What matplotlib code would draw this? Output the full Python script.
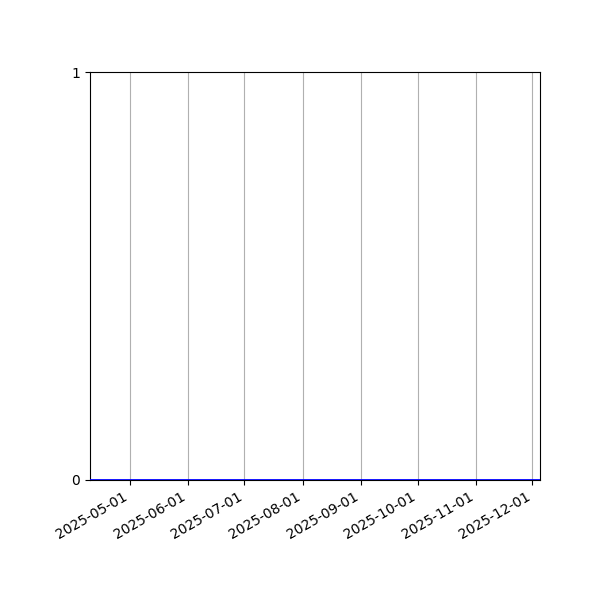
import numpy as np
import pandas as pd
import matplotlib
matplotlib.use("Agg")
import matplotlib.pyplot as plt
import matplotlib.dates as mdates

dates = pd.to_datetime(["2025-04-10", "2025-06-01", "2025-08-01", "2025-10-01", "2025-12-05"])
values = [0, 0, 0, 0, 0]
y_ticks = [0, 1]

fig, ax = plt.subplots(figsize=(6, 6), dpi=100)
ax.plot(dates, values, color="blue", linewidth=2, zorder=3)
ax.set_xlim(dates[0], dates[-1])
ax.set_ylim(0, 1)
ax.set_yticks(y_ticks)
ax.xaxis.set_major_locator(mdates.MonthLocator())
ax.xaxis.set_major_formatter(mdates.DateFormatter("%Y-%m-%d"))
ax.grid(axis="x", color="#b0b0b0")
fig.autofmt_xdate()
fig.subplots_adjust(left=0.15, right=0.9, top=0.88, bottom=0.2)
fig.savefig("out.png")
